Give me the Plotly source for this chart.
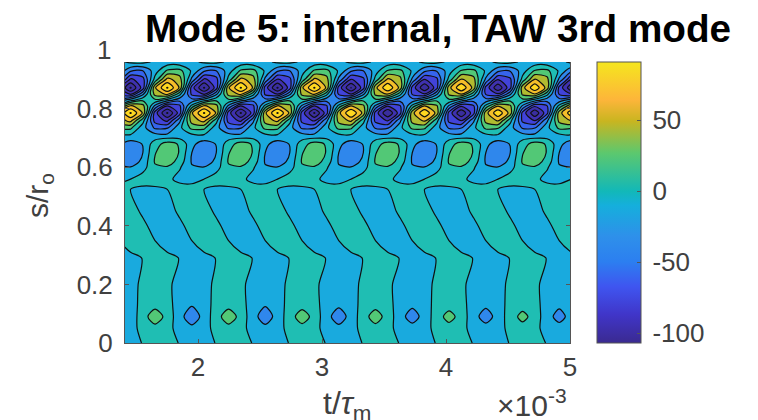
import plotly.graph_objects as go

t_values = [1.357,1.456,1.555,1.653,1.752,1.851,1.950,2.049,2.147,2.246,2.345,2.444,2.542,
            2.641,2.740,2.839,2.938,3.036,3.135,3.234,3.333,3.431,3.530,3.629,3.728,3.827,
            3.925,4.024,4.123,4.222,4.321,4.419,4.518,4.617,4.716,4.815,4.913,5.012,5.111]
s_values = [0,.05,.09,.13,.2,.29,.31,.35,.40,.45,.525,.54,.56,.60,.62,.65,.68,.71,.735,.76,.786,.81,.83,.85,.872,.90,.93,.96]

z_000 = [-10,-8,1,9,8,-1,-10,-8,1,9,8,-1,-10,-8,1,9,8,-1,-10,-8,1,9,8,-1,-9,-7,1,9,8,-1,-9,-7,1,8,7,-1,-9,-7,1]
z_005 = [-15,-8,7,14,7,-8,-15,-8,7,14,7,-8,-15,-8,7,14,7,-8,-15,-8,7,14,7,-8,-14,-8,7,13,7,-8,-14,-8,6,13,6,-8,-14,-8,6]
z_009 = [-15,-14,13,25,14,-14,-25,-14,13,25,14,-14,-24,-14,13,24,14,-14,-24,-14,13,24,13,-14,-23,-14,12,23,13,-14,-23,-14,12,22,13,-14,-22,-14,12]
z_013 = [-17,-9,7,14,7,-9,-17,-9,7,14,7,-9,-17,-9,7,14,7,-9,-16,-9,7,14,7,-9,-16,-9,7,13,7,-9,-16,-9,7,13,7,-9,-16,-9,7]
z_020 = [-14,-8,5,12,5,-8,-14,-8,5,12,5,-8,-14,-8,5,12,5,-8,-14,-8,5,12,5,-8,-14,-8,5,12,5,-8,-13,-8,5,12,5,-8,-13,-8,5]
z_029 = [-12,-10,1,12,10,-1,-12,-10,1,12,10,-1,-12,-10,1,12,10,-1,-12,-10,1,12,10,-1,-12,-10,1,12,10,-1,-12,-10,1,12,10,-1,-12,-10,1]
z_031 = [-11,0,11,11,0,-11,-11,0,11,11,0,-11,-11,0,11,11,0,-11,-11,0,11,11,0,-11,-11,0,11,11,0,-11,-11,0,11,11,0,-11,-11,0,11]
z_035 = [0,11,11,0,-11,-11,0,11,11,0,-11,-11,0,11,11,0,-11,-11,0,11,11,0,-11,-11,0,11,11,0,-11,-11,0,11,11,0,-11,-11,0,11,11]
z_040 = [8,13,5,-8,-13,-5,8,13,5,-8,-13,-5,8,13,5,-8,-13,-5,8,13,5,-8,-13,-5,8,13,5,-8,-13,-5,8,13,5,-8,-13,-5,8,13,5]
z_045 = [13,9,-4,-13,-9,4,13,9,-4,-13,-9,4,13,9,-4,-13,-9,4,13,9,-4,-13,-9,4,13,9,-4,-13,-9,4,13,9,-4,-13,-9,4,13,9,-4]
z_0525 = [6,0,-9,-9,0,6,6,0,-9,-9,0,6,6,0,-9,-9,0,6,6,0,-9,-9,0,6,6,0,-9,-9,0,6,6,0,-9,-9,0,6,6,0,-9]
z_054 = [2,3,3,5,3,3,2,3,3,5,3,3,2,3,3,5,3,3,2,3,3,5,3,3,2,3,3,5,3,3,2,3,3,5,3,3,2,3,3]
z_056 = [-8,0,9,12,5,-6,-8,0,9,12,5,-6,-8,0,9,12,5,-6,-8,0,9,12,5,-6,-8,0,9,12,5,-6,-8,0,9,12,5,-6,-8,0,9]
z_060 = [-16,-17,-7,15,16,2,-16,-17,-7,15,16,2,-16,-17,-7,15,16,2,-16,-17,-7,15,16,2,-16,-17,-7,15,16,2,-16,-17,-7,15,16,2,-16,-17,-7]
z_062 = [-20,-30,-13,20,28,11,-20,-30,-13,20,28,11,-20,-30,-13,20,28,11,-20,-30,-13,20,28,11,-20,-30,-13,20,28,11,-20,-30,-13,20,28,11,-20,-30,-13]
z_065 = [-18,-33,-18,17,30,17,-18,-33,-18,17,30,17,-18,-33,-18,17,30,17,-18,-33,-18,17,30,17,-18,-33,-18,17,30,17,-18,-33,-18,17,30,17,-18,-33,-18]
z_068 = [-13,-28,-17,10,26,16,-13,-28,-17,10,26,16,-13,-28,-17,10,26,16,-13,-28,-17,10,26,16,-13,-28,-17,10,26,16,-13,-28,-17,10,26,16,-13,-28,-17]
z_071 = [-4,-2,-5,-12,-14,-11,-4,-2,-5,-12,-14,-11,-4,-2,-5,-12,-14,-11,-4,-2,-5,-12,-14,-11,-4,-2,-5,-12,-14,-11,-4,-2,-5,-12,-14,-11,-4,-2,-5]
z_0735 = [23,22,-11,-39,-38,-5,23,22,-11,-39,-38,-5,23,22,-11,-39,-38,-5,23,21,-11,-38,-38,-5,22,21,-11,-38,-37,-5,22,20,-11,-38,-37,-5,22,20,-11]
z_076 = [45,60,7,-61,-76,-23,45,60,7,-61,-76,-23,44,59,7,-60,-75,-23,43,58,7,-59,-74,-23,43,57,7,-59,-73,-22,42,56,7,-58,-72,-22,41,55,7]
z_0786 = [52,92,52,-64,-110,-64,52,92,52,-64,-110,-64,51,92,51,-63,-110,-63,49,90,49,-62,-108,-62,48,88,48,-61,-106,-61,47,86,47,-60,-105,-60,46,84,46]
z_081 = [6,57,42,-22,-73,-58,6,57,42,-22,-73,-58,6,56,41,-22,-72,-57,6,55,40,-22,-71,-56,6,54,39,-21,-70,-56,6,53,39,-21,-69,-55,6,52,38]
z_083 = [-30,-8,14,14,-8,-30,-30,-8,14,14,-8,-30,-30,-8,14,14,-8,-30,-30,-8,14,14,-8,-30,-29,-8,14,14,-8,-29,-29,-8,13,13,-8,-29,-29,-8,13]
z_085 = [-58,-73,-22,42,57,6,-58,-73,-22,42,57,6,-57,-72,-22,41,56,6,-56,-71,-22,40,55,6,-56,-70,-21,39,54,6,-55,-69,-21,39,53,6,-55,-69,-21]
z_0872 = [-64,-110,-64,52,92,52,-64,-110,-64,52,92,52,-63,-110,-63,51,92,51,-62,-109,-62,49,88,49,-61,-106,-61,48,88,48,-60,-105,-60,47,86,47,-60,-105,-60]
z_090 = [-23,-76,-61,7,60,45,-23,-76,-61,7,60,45,-23,-75,-60,7,59,44,-23,-74,-59,7,58,43,-22,-73,-59,7,57,43,-22,-72,-58,7,56,42,-22,-72,-58]
z_093 = [-3,-33,-36,-9,21,24,-3,-33,-36,-9,21,24,-3,-33,-36,-9,21,24,-3,-33,-36,-9,20,23,-3,-32,-35,-9,20,23,-3,-32,-35,-9,20,23,-3,-32,-35]
z_096 = [-5,4,5,-3,-12,-13,-5,4,5,-3,-12,-13,-5,4,5,-3,-12,-13,-5,4,5,-3,-12,-13,-5,4,5,-3,-12,-13,-5,4,5,-3,-12,-13,-5,4,5]

z_rows = [z_000,z_005,z_009,z_013,z_020,z_029,z_031,z_035,z_040,z_045,z_0525,z_054,z_056,z_060,
          z_062,z_065,z_068,z_071,z_0735,z_076,z_0786,z_081,z_083,z_085,z_0872,z_090,z_093,z_096]

x_ticks = [2,3,4,5]
y_ticks = [0,.2,.4,.6,.8]
y_tick_text = ["0","0.2","0.4","0.6","0.8"]
cbar_ticks = [-100,-50,0,50]
cbar_text = ["\u2009-100","\u2009-50","\u20090","\u200950"]

fill_scale = [[0,"#3A2E9E"],[.106,"#3A2E9E"],[.197,"#4535C8"],[.288,"#4050E8"],[.379,"#3070F0"],[.469,"#2E90EA"],
              [.56,"#15AFDC"],[.651,"#20BFB0"],[.742,"#50C878"],[.833,"#A8BC30"],[.924,"#F0B52E"],[1,"#FFD820"]]
bar_scale = [[0,"#3A2A90"],[.1,"#4035C8"],[.2,"#3F55F0"],[.29,"#2C7FF0"],[.38,"#2E90EA"],[.49,"#15AFDC"],
             [.54,"#12B8B8"],[.676,"#5CC86E"],[.79,"#C9B520"],[.865,"#FDB53A"],[1,"#F5E61E"]]
Z_MIN, Z_MAX = -107, 91
W, H = 758, 420
INK = "#404040"
FONT = "Liberation Sans"

fig = go.Figure()
fig.add_trace(go.Contour(
    x=t_values, y=s_values, z=z_rows, zmin=Z_MIN, zmax=Z_MAX, colorscale=fill_scale, showscale=False,
    contours=dict(start=-108, end=90, size=18, coloring="fill"),
    line=dict(color="#101010", width=1.2, smoothing=0.8),
    hoverinfo="skip"))
fig.add_trace(go.Scatter(
    x=[None, None], y=[None, None], mode="markers", showlegend=False,
    marker=dict(color=[Z_MIN, Z_MAX], cmin=Z_MIN, cmax=Z_MAX, colorscale=bar_scale, showscale=True,
                colorbar=dict(x=597/W, xanchor="left", y=(H-343)/H, yanchor="bottom", len=281/H,
                              lenmode="fraction", thickness=44, thicknessmode="pixels", xpad=0, ypad=0,
                              outlinecolor="#555555", outlinewidth=1, tickvals=cbar_ticks, ticktext=cbar_text,
                              ticks="inside", ticklen=4, tickcolor="#555555",
                              tickfont=dict(family=FONT, size=26, color=INK)))))

axis_style = dict(showline=True, linecolor="#555555", linewidth=1, ticks="inside", ticklen=4, tickcolor="#555555",
                  showgrid=False, zeroline=False, tickfont=dict(family=FONT, size=26, color=INK))
fig.update_layout(
    width=W, height=H, paper_bgcolor="white", plot_bgcolor="white", showlegend=False,
    margin=dict(l=0, r=0, t=0, b=0, autoexpand=False),
    xaxis=dict(domain=[125/W, 570/W], range=[1.411, 5.0], tickvals=x_ticks, ticklabelstandoff=1, **axis_style),
    yaxis=dict(domain=[(H-343)/H, (H-62)/H], range=[0, .96], tickvals=y_ticks, ticktext=y_tick_text,
               mirror="ticks", ticklabelstandoff=6, **axis_style),
    annotations=[
        dict(text="<b>Mode 5: internal, TAW 3rd mode</b>", x=143/W, y=1-29/H, xref="paper", yref="paper",
             xanchor="left", yanchor="middle", showarrow=False, font=dict(family=FONT, size=38.7, color="black")),
        dict(text="1", x=113/W, y=1-50/H, xref="paper", yref="paper", xanchor="right", yanchor="middle",
             showarrow=False, font=dict(family=FONT, size=26, color=INK)),
        dict(text="s/r<sub>o</sub>", x=39/W, y=1-196/H, xref="paper", yref="paper", xanchor="center", yanchor="middle",
             textangle=-90, showarrow=False, font=dict(family=FONT, size=30, color=INK)),
        dict(text="t/<i>τ</i><sub>m</sub>", x=347/W, y=1-405/H, xref="paper", yref="paper", xanchor="center", yanchor="middle",
             showarrow=False, font=dict(family=FONT, size=32, color=INK)),
        dict(text="×10<sup>-3</sup>", x=569/W, y=1-403/H, xref="paper", yref="paper", xanchor="right", yanchor="middle",
             showarrow=False, font=dict(family=FONT, size=30, color=INK)),
    ])

fig.write_html("out.html", post_script="document.body.style.margin='0';", config=dict(displayModeBar=False))
